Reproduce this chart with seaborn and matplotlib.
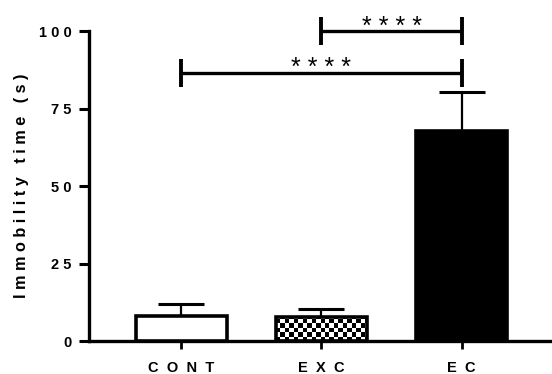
import numpy as np
import pandas as pd
import matplotlib
matplotlib.use("Agg")
import matplotlib.pyplot as plt
import seaborn as sns

# Group means and SEM of immobility time (s)
groups = ["CONT", "EXC", "EC"]
means = [8.1, 7.7, 67.7]
sems = [3.9, 2.6, 12.6]
y_ticks = [0, 25, 50, 75, 100]
# Significance comparisons: (group a, group b, bracket height, label)
comparisons = [("CONT", "EC", 86.5, "****"), ("EXC", "EC", 100.0, "****")]

sns.set_theme(style="ticks")
plt.rcParams["font.family"] = ["Liberation Sans", "DejaVu Sans"]
plt.rcParams["font.weight"] = "bold"


def spaced(s, gap=" "):
    return gap.join(list(s))


df = pd.DataFrame({"group": groups, "time": means})

fig = plt.figure(figsize=(5.52, 3.74), dpi=100)
ax = fig.add_axes([0.161, 0.088, 0.839, 0.829])

sns.barplot(data=df, x="group", y="time", hue="group", order=groups,
            palette=["white", "white", "black"], legend=False, width=0.65,
            edgecolor="black", linewidth=2.6, errorbar=None, ax=ax,
            saturation=1)

bars = ax.patches[:3]
for b in bars:
    b.set_zorder(3)

# Upward-only SEM error bars
xpos = np.arange(len(groups))
ax.errorbar(xpos, means, yerr=[np.zeros(len(sems)), sems], fmt="none",
            ecolor="black", elinewidth=1.6, capsize=16.5, capthick=2.2,
            zorder=2)

# Checkerboard fill for the EXC bar
b = bars[1]
bx0, bw, bh = b.get_x(), b.get_width(), b.get_height()
cx, cy = 0.0315, 1.42
nx, ny = int(np.ceil(bw / cx)), int(np.ceil(bh / cy))
ii, jj = np.meshgrid(np.arange(nx), np.arange(ny))
board = ((ii + jj) % 2).astype(float)
b.set_facecolor("none")
img = ax.imshow(board, cmap="gray", interpolation="nearest", aspect="auto",
                origin="lower", extent=[bx0, bx0 + nx * cx, 0, ny * cy],
                zorder=2.5)
img.set_clip_path(b)

# Significance brackets
for a, c, h, lab in comparisons:
    x1, x2 = groups.index(a), groups.index(c)
    ax.plot([x1, x2], [h, h], color="black", lw=2.4, clip_on=False,
            solid_capstyle="butt", zorder=4)
    for xe in (x1, x2):
        ax.plot([xe, xe], [h - 4.6, h + 4.6], color="black", lw=2.8,
                clip_on=False, solid_capstyle="butt", zorder=4)
    ax.text((x1 + x2) / 2, h - 0.8, spaced(lab), ha="center",
            va="baseline", fontsize=18, fontweight="normal", color="black")

ax.set_xlim(-0.66, 2.645)
ax.set_ylim(0, 100)
ax.set_yticks(y_ticks)
ax.set_yticklabels([spaced(str(t)) for t in y_ticks], fontsize=10.5,
                   fontweight="bold")
ax.set_xticks(xpos)
ax.set_xticklabels([spaced(g, "  ") for g in groups], fontsize=10.5,
                   fontweight="bold")
ax.set_xlabel("")
ax.set_ylabel(spaced("Immobility time (s)"), fontsize=11.7,
              fontweight="bold", color="black")
ax.yaxis.set_label_coords(-0.13, 0.5)

for side in ("top", "right"):
    ax.spines[side].set_visible(False)
for side in ("left", "bottom"):
    ax.spines[side].set_linewidth(2.4)
    ax.spines[side].set_color("black")
ax.tick_params(axis="y", length=7, width=2.2, pad=5.5, colors="black")
ax.tick_params(axis="x", length=6, width=2.0, pad=8, colors="black")

fig.savefig("out.png", dpi=100)
